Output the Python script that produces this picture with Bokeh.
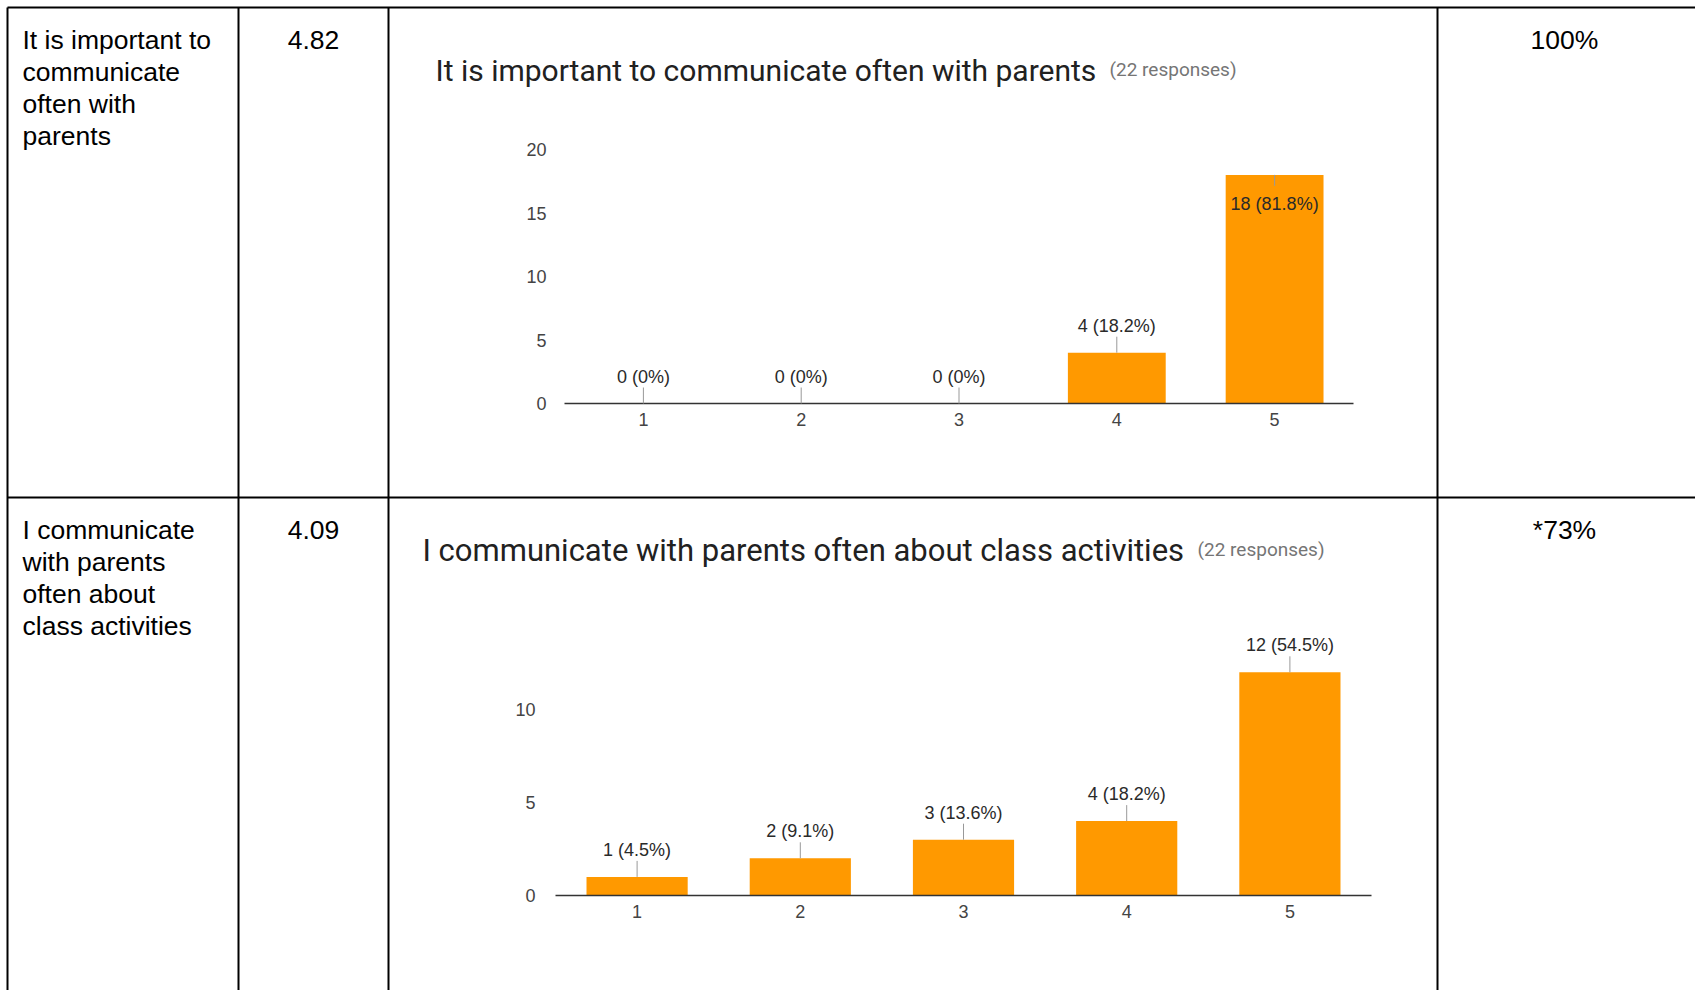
import math
from bokeh.plotting import figure
from bokeh.models import Range1d
from bokeh.core.properties import value
from bokeh.embed import file_html
from bokeh.resources import INLINE

# ---------------- data ----------------
categories = [1, 2, 3, 4, 5]
q1_counts = [0, 0, 0, 4, 18]
q2_counts = [1, 2, 3, 4, 12]
responses = [22, 22]
q1_yticks = [0, 5, 10, 15, 20]
q2_yticks = [0, 5, 10]
chart_titles = ["It is important to communicate often with parents",
                "I communicate with parents often about class activities"]
statement_lines = [["It is important to", "communicate", "often with", "parents"],
                   ["I communicate", "with parents", "often about", "class activities"]]
means = ["4.82", "4.09"]
agree = ["100%", "*73%"]

# ---------------- page / figure ----------------
W, H = 1695, 990
PX0, PY0 = 0, 0
p = figure(width=W, height=H, x_range=Range1d(PX0, PX0 + W), y_range=Range1d(PY0 + H, PY0),
           output_backend="svg", toolbar_location=None, min_border=0,
           x_axis_location=None, y_axis_location=None, outline_line_color=None)
p.grid.visible = False
p.background_fill_color = "white"

TABLE_FONT = value("Liberation Sans")
CHART_FONT = value("Liberation Sans")
TITLE_FONT = value("Roboto")

# table grid (layout)
col_x = [7, 238, 388, 1437]
row_y = [7, 497]
p.segment(x0=col_x, y0=[7] * len(col_x), x1=col_x, y1=[PY0 + H + 5] * len(col_x),
          line_color="black", line_width=2)
p.segment(x0=[7] * len(row_y), y0=row_y, x1=[PX0 + W + 5] * len(row_y), y1=row_y,
          line_color="black", line_width=2)

row_text_top = [39, 529]
LINE_H = 32.3
for r in range(2):
    ys = [row_text_top[r] + i * LINE_H for i in range(len(statement_lines[r]))]
    p.text(x=[22] * len(ys), y=ys, text=statement_lines[r], text_font=TABLE_FONT,
           text_font_size="26.5px", text_color="black", text_baseline="middle", text_align="left")
    p.text(x=[313], y=[row_text_top[r]], text=[means[r]], text_font=TABLE_FONT,
           text_font_size="26.5px", text_color="black", text_baseline="middle", text_align="center")
    p.text(x=[1564], y=[row_text_top[r]], text=[agree[r]], text_font=TABLE_FONT,
           text_font_size="26.5px", text_color="black", text_baseline="middle", text_align="center")


def add_range(name, v0, p0, v1, p1, axis):
    k = (p1 - p0) / (v1 - v0)
    if axis == "x":
        lo, hi = PX0, PX0 + W
        p.extra_x_ranges[name] = Range1d(v0 + (lo - p0) / k, v0 + (hi - p0) / k)
    else:
        lo, hi = PY0 + H, PY0
        p.extra_y_ranges[name] = Range1d(v0 + (lo - p0) / k, v0 + (hi - p0) / k)
    return abs(k)


def fmt_label(c, total):
    pct = c / total * 100
    s = f"{pct:.1f}".rstrip("0").rstrip(".")
    return f"{c} ({s}%)"


def draw_chart(idx, counts, yticks, ymax, x_px, y_px, tick_off, title_xy, title_size, resp_x):
    xn, yn = f"c{idx}x", f"c{idx}y"
    lo_c, hi_c = categories[0] - 0.5, categories[-1] + 0.5
    add_range(xn, lo_c, x_px[0], hi_c, x_px[1], "x")
    ky = add_range(yn, 0, y_px[0], yticks[-1], y_px[1], "y")
    kw = dict(x_range_name=xn, y_range_name=yn)

    p.vbar(x=categories, top=counts, bottom=0, width=0.62, fill_color="#ff9900",
           line_color=None, **kw)
    # baseline
    p.segment(x0=[lo_c], y0=[0], x1=[hi_c], y1=[0], line_color="#333333", line_width=1.6, **kw)

    inside = [c + 40 / ky > ymax for c in counts]
    angles = [-math.pi / 2 if f else math.pi / 2 for f in inside]
    lens = [11 if f else 16 for f in inside]
    p.ray(x=categories, y=counts, length=lens, length_units="screen", angle=angles,
          line_color="#999999", line_width=1, **kw)
    labels = [fmt_label(c, responses[idx - 1]) for c in counts]
    offs = [29 if f else -27 for f in inside]
    p.text(x=categories, y=counts, text=labels, y_offset=offs, text_font=CHART_FONT,
           text_font_size="18px", text_color="#2a2a2a", text_align="center",
           text_baseline="middle", **kw)
    # x ticks
    p.text(x=categories, y=[0] * len(categories), text=[str(c) for c in categories],
           y_offset=16, text_font=CHART_FONT, text_font_size="18px", text_color="#444444",
           text_align="center", text_baseline="middle", **kw)
    # y ticks
    p.text(x=[lo_c] * len(yticks), y=yticks, text=[str(t) for t in yticks], x_offset=-tick_off,
           text_font=CHART_FONT, text_font_size="18px", text_color="#444444",
           text_align="right", text_baseline="middle", **kw)
    # title
    p.text(x=[title_xy[0]], y=[title_xy[1]], text=[chart_titles[idx - 1]], text_font=TITLE_FONT,
           text_font_size=title_size, text_color="#212121", text_align="left", text_baseline="middle")
    p.text(x=[resp_x], y=[title_xy[1] - 1], text=[f"({responses[idx - 1]} responses)"],
           text_font=TITLE_FONT, text_font_size="19px", text_color="#757575",
           text_align="left", text_baseline="middle")


draw_chart(1, q1_counts, q1_yticks, 20, (564, 1353), (403, 149), 18, (435, 70), "30px", 1109)
draw_chart(2, q2_counts, q2_yticks, 15, (555, 1371), (895, 709), 20, (422, 550), "31px", 1197)

open("out.html", "w").write(file_html(p, INLINE))
